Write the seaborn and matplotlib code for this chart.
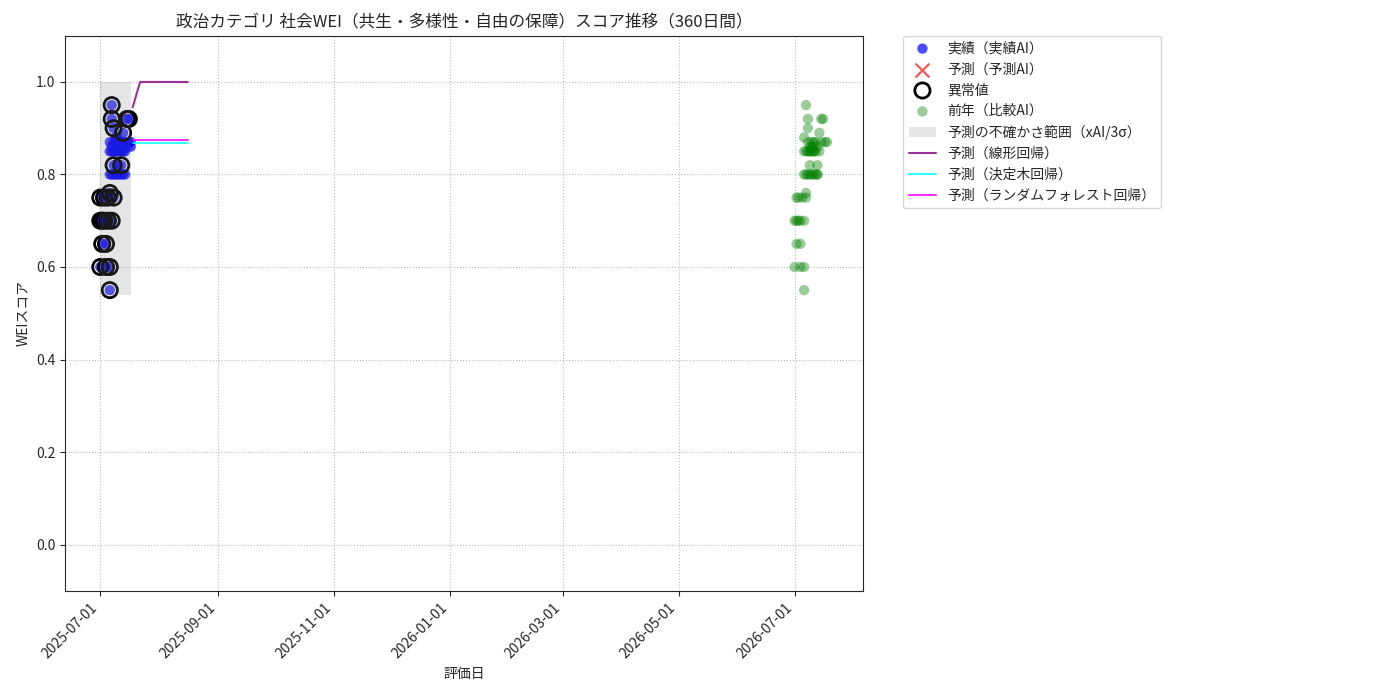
import numpy as np
import pandas as pd
import matplotlib
matplotlib.use("Agg")
import matplotlib.pyplot as plt
import matplotlib.dates as mdates
import seaborn as sns

# actual (実績AI): day offset from 2025-07-01, score
actual_days = [0, 0, 0, 1, 1, 2, 2, 3, 3, 4, 4, 5, 5, 5, 5, 5, 5, 6, 6, 6, 6,
               7, 7, 7, 7, 8, 8, 8, 9, 9, 9, 10, 10, 11, 11, 12, 12, 12, 13, 14, 15, 15, 16,
               6, 7, 8, 9, 10, 11, 12, 13, 14, 6, 8, 10, 11, 13, 9, 11, 7, 9, 12, 16]
actual_vals = [0.75, 0.70, 0.60, 0.65, 0.70, 0.75, 0.70, 0.65, 0.60, 0.70, 0.75,
               0.55, 0.60, 0.76, 0.80, 0.85, 0.87, 0.95, 0.92, 0.86, 0.70,
               0.90, 0.82, 0.75, 0.85, 0.88, 0.80, 0.86, 0.82, 0.87, 0.85,
               0.80, 0.86, 0.82, 0.87, 0.89, 0.80, 0.85, 0.87, 0.92, 0.92, 0.87, 0.87,
               0.85, 0.87, 0.85, 0.86, 0.85, 0.85, 0.87, 0.85, 0.86, 0.80, 0.87, 0.87,
               0.86, 0.80, 0.80, 0.80, 0.80, 0.88, 0.86, 0.86]
anomaly = [1, 1, 1, 1, 1, 1, 1, 1, 1, 1, 1,
           1, 1, 1, 0, 0, 0, 1, 1, 0, 1,
           1, 1, 1, 0, 0, 0, 0, 0, 0, 0,
           0, 0, 1, 0, 1, 0, 0, 0, 1, 1, 0, 0,
           0, 0, 0, 0, 0, 0, 0, 0, 0, 0, 0, 0,
           0, 0, 0, 0, 0, 0, 0, 0]

# forecast AI points (none drawn)
pred_ai_dates = []
pred_ai_vals = []

# previous year (比較AI): day offset from 2026-07-01
prev_days = [6, 7, 14, 15, 7, 13, 5, 9, 10, 16, 17, 5, 8, 10, 13, 8, 12,
             5, 7, 9, 12, 6, 1, 4, 6, 0, 2, 3, 5, 1, 3, 0, 3, 5, 5,
             6, 7, 8, 9, 11, 12, 7, 9, 10, 11, 8, 10, 12, 14, 6, 8, 10, 11, 1, 2]
prev_vals = [0.95, 0.92, 0.92, 0.92, 0.90, 0.89, 0.88, 0.87, 0.87, 0.87, 0.87,
             0.85, 0.85, 0.85, 0.85, 0.82, 0.82, 0.80, 0.80, 0.80, 0.80,
             0.76, 0.75, 0.75, 0.75, 0.70, 0.70, 0.70, 0.70, 0.65, 0.65,
             0.60, 0.60, 0.60, 0.55,
             0.85, 0.85, 0.86, 0.85, 0.85, 0.86, 0.87, 0.86, 0.85, 0.87,
             0.80, 0.80, 0.80, 0.87, 0.80, 0.85, 0.86, 0.80, 0.70, 0.75]

# uncertainty band
band_dates = ["2025-07-01", "2025-07-17"]
band_low = [0.54, 0.54]
band_high = [1.0, 1.0]

# model forecasts, 2025-07-18 .. 2025-08-16
fc_dates = pd.date_range("2025-07-18", "2025-08-16", freq="D")
fc_linear = [0.945, 0.959, 0.973, 0.987, 1.0, 1.0, 1.0, 1.0, 1.0, 1.0,
             1.0, 1.0, 1.0, 1.0, 1.0, 1.0, 1.0, 1.0, 1.0, 1.0,
             1.0, 1.0, 1.0, 1.0, 1.0, 1.0, 1.0, 1.0, 1.0, 1.0]
fc_tree = [0.869] * 30
fc_forest = [0.874] * 30

sns.set_style("ticks")
plt.rcParams['font.family'] = ['Noto Sans CJK JP', 'DejaVu Sans']
plt.rcParams['axes.unicode_minus'] = False

df = pd.DataFrame({
    "date": pd.Timestamp("2025-07-01") + pd.to_timedelta(actual_days, unit="D"),
    "score": actual_vals,
    "anomaly": anomaly,
})
df_prev = pd.DataFrame({
    "date": pd.Timestamp("2026-07-01") + pd.to_timedelta(prev_days, unit="D"),
    "score": prev_vals,
})
df_fc = pd.DataFrame({"date": fc_dates, "linear": fc_linear,
                      "tree": fc_tree, "forest": fc_forest})

fig = plt.figure(figsize=(14, 7), dpi=100)
ax = fig.add_axes([0.0465, 0.156, 0.570, 0.793])

sns.scatterplot(data=df, x="date", y="score", color="blue", alpha=0.7, s=55,
                edgecolor="none", label="実績（実績AI）", ax=ax)
ax.scatter(pd.to_datetime(pred_ai_dates), pred_ai_vals, marker="x", color="red",
           alpha=0.7, s=100, label="予測（予測AI）")
an = df[df["anomaly"] == 1]
ax.scatter(an["date"], an["score"], s=120, facecolors="none", edgecolors="black",
           linewidths=2, label="異常値")
sns.scatterplot(data=df_prev, x="date", y="score", color="green", alpha=0.4, s=55,
                edgecolor="none", label="前年（比較AI）", ax=ax)
ax.fill_between(pd.to_datetime(band_dates), band_low, band_high, color="gray",
                alpha=0.2, linewidth=0, label="予測の不確かさ範囲（xAI/3σ）")
sns.lineplot(data=df_fc, x="date", y="linear", color="purple", alpha=0.8,
             label="予測（線形回帰）", ax=ax)
sns.lineplot(data=df_fc, x="date", y="tree", color="cyan", alpha=0.8,
             label="予測（決定木回帰）", ax=ax)
sns.lineplot(data=df_fc, x="date", y="forest", color="magenta", alpha=0.8,
             label="予測（ランダムフォレスト回帰）", ax=ax)

ax.set_xlim(pd.Timestamp("2025-06-12 12:00"), pd.Timestamp("2026-08-06"))
ax.set_ylim(-0.1, 1.1)
ax.set_yticks([0.0, 0.2, 0.4, 0.6, 0.8, 1.0])
ax.xaxis.set_major_locator(mdates.MonthLocator(bymonth=[1, 3, 5, 7, 9, 11]))
ax.xaxis.set_major_formatter(mdates.DateFormatter("%Y-%m-%d"))
plt.setp(ax.get_xticklabels(), rotation=45, ha="right")
ax.grid(True, linestyle=":", color="#bbbbbb", linewidth=0.8)
ax.set_title("政治カテゴリ 社会WEI（共生・多様性・自由の保障）スコア推移（360日間）", fontsize=12)
ax.set_xlabel("評価日")
ax.set_ylabel("WEIスコア")
ax.legend(bbox_to_anchor=(1.05, 1), loc="upper left", borderaxespad=0.)

fig.savefig("out.png", dpi=100)
